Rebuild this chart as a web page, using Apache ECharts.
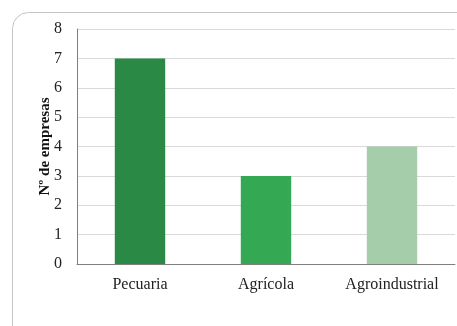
<!DOCTYPE html>
<html>
<head>
    <meta charset="UTF-8">
    <title>Nº de empresas</title>
    <script src="https://cdn.jsdelivr.net/npm/echarts@6/dist/echarts.min.js"></script>
    <style>
        html, body { margin: 0; padding: 0; background: #fff; }
        #chart { width: 457px; height: 326px; }
    </style>
</head>
<body>
<div id="chart"></div>
<script>
    var categories = ['Pecuaria', 'Agrícola', 'Agroindustrial'];
    var empresas = [7, 3, 4];
    var barColors = ['#2a8a45', '#34a853', '#a6cdaa'];

    var myChart = echarts.init(document.getElementById('chart'));
    var seriesData = [];
    for (var i = 0; i < empresas.length; i++) {
        seriesData.push({value: empresas[i], itemStyle: {color: barColors[i]}});
    }
    var option = {
        animation: false,
        textStyle: {fontFamily: 'Liberation Serif'},
        grid: {left: 77, right: 2, top: 29, bottom: 62},
        // rounded frame around the chart
        graphic: [{
            type: 'rect',
            shape: {x: 12.5, y: 12.5, width: 470, height: 340, r: 16},
            style: {fill: 'none', stroke: '#c4c4c4', lineWidth: 1},
            silent: true
        }],
        xAxis: {
            type: 'category',
            data: categories,
            axisLine: {lineStyle: {color: '#7f7f7f', width: 1}},
            axisTick: {show: false},
            axisLabel: {color: '#222', fontSize: 16, margin: 13, fontFamily: 'Liberation Serif'}
        },
        yAxis: {
            type: 'value',
            min: 0,
            max: 8,
            interval: 1,
            name: 'Nº de empresas',
            nameLocation: 'middle',
            nameGap: 24,
            nameMoveOverlap: false,
            nameTextStyle: {color: '#111', fontSize: 15, fontWeight: 'bold', fontFamily: 'Liberation Serif'},
            axisLine: {show: true, lineStyle: {color: '#7f7f7f', width: 1}},
            axisTick: {show: false},
            axisLabel: {color: '#222', fontSize: 16, margin: 15, fontFamily: 'Liberation Serif'},
            splitLine: {lineStyle: {color: '#d9d9d9', width: 1}}
        },
        series: [{
            type: 'bar',
            barWidth: '40%',
            data: seriesData
        }]
    };
    myChart.setOption(option);
</script>
</body>
</html>
